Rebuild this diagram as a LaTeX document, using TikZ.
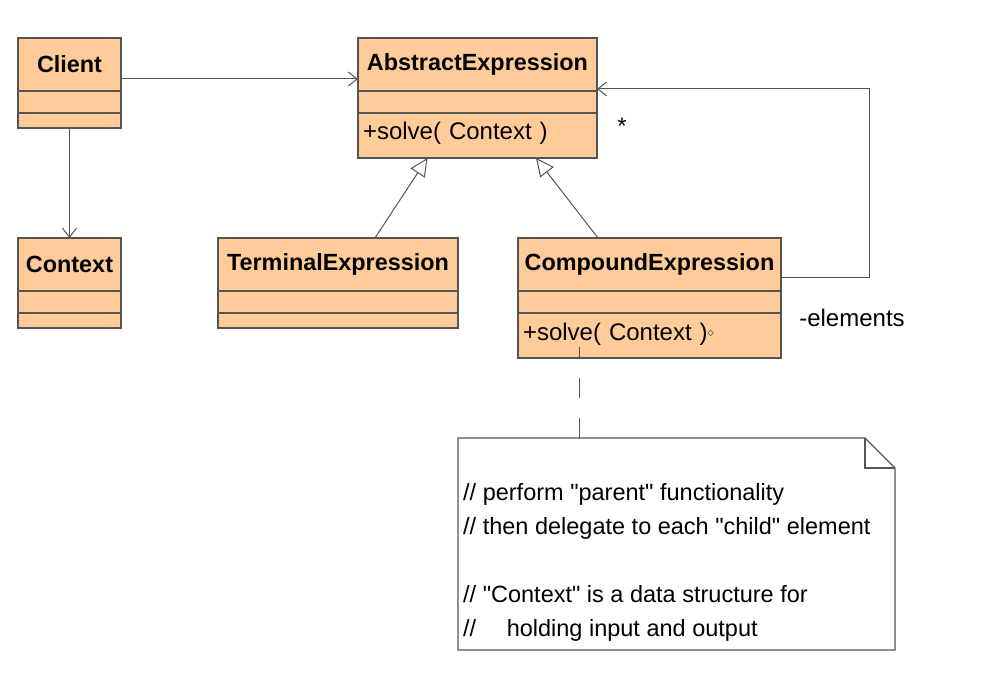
\documentclass[tikz,border=0pt]{standalone}
\usepackage{fontspec}
\setmainfont{Liberation Sans}[Ligatures=TeXOff]
\newfontfamily\symb{DejaVu Sans}
\usetikzlibrary{positioning,calc,arrows.meta}
\definecolor{peach}{RGB}{255,204,153}
\definecolor{edge}{RGB}{85,85,85}
\tikzset{
  namebox/.style={draw=edge, line width=1.2pt, fill=peach, minimum height=53pt, inner sep=0pt, outer sep=0pt, font=\fontsize{23.4}{28}\selectfont\bfseries},
  part/.style={draw=edge, line width=1.2pt, fill=peach, minimum height=22pt, inner sep=0pt, outer sep=0pt, font=\fontsize{24}{28}\selectfont},
  assoc/.style={draw=edge, line width=1pt, -{Straight Barb[length=9pt,width=14pt]}},
  inherit/.style={draw=edge, line width=1pt, -{Triangle[open, length=18pt, width=17pt]}},
}
\begin{document}
\begin{tikzpicture}[x=1pt,y=1pt]
    \useasboundingbox (0,0) rectangle (994,700);
    % classes
    \node[namebox, minimum width=103pt] (client) at (69.5,635.5) {Client};
    \node[part, minimum width=103pt, below=0pt of client] (client-a) {};
    \node[part, minimum width=103pt, minimum height=15pt, below=0pt of client-a] (client-m) {};

    \node[namebox, minimum width=103pt] (context) at (69.5,435.5) {Context};
    \node[part, minimum width=103pt, below=0pt of context] (context-a) {};
    \node[part, minimum width=103pt, minimum height=15pt, below=0pt of context-a] (context-m) {};

    \node[namebox, minimum width=239pt] (abs) at (477.5,635.5) {AbstractExpression};
    \node[part, minimum width=239pt, below=0pt of abs] (abs-a) {};
    \node[part, minimum width=239pt, minimum height=45pt, text width=229pt, align=left, inner xsep=5pt, inner ysep=4pt, text depth=10pt, below=0pt of abs-a] (abs-m) {+solve( Context )};

    \node[namebox, minimum width=240pt] (term) at (338,435.5) {TerminalExpression};
    \node[part, minimum width=240pt, below=0pt of term] (term-a) {};
    \node[part, minimum width=240pt, minimum height=15pt, below=0pt of term-a] (term-m) {};

    \node[namebox, minimum width=263pt] (comp) at (649.5,435.5) {CompoundExpression};
    \node[part, minimum width=263pt, below=0pt of comp] (comp-a) {};
    \node[part, minimum width=263pt, minimum height=45pt, text width=253pt, align=left, inner xsep=5pt, inner ysep=4pt, text depth=8pt, below=0pt of comp-a] (comp-m) {+solve( Context )\raisebox{5pt}{\symb\fontsize{8}{8}\selectfont ◇}};

    % note
    \node[minimum width=437pt, minimum height=212pt, inner sep=0pt, outer sep=0pt] (note) at (676.5,156) {};
    \draw[edge, line width=1.2pt, fill=white] (note.north west) -- ($(note.north east)+(-30,0)$) -- ($(note.north east)+(0,-30)$) -- (note.south east) -- (note.south west) -- cycle;
    \draw[edge, line width=1.2pt] ($(note.north east)+(-30,0)$) -- ++(0,-30) -- ++(30,0);
    \node[anchor=north west, inner sep=0pt, align=left, font=\fontsize{23.5}{34}\selectfont] (notetext) at (463,217) {// perform "parent" functionality\\// then delegate to each "child" element\\[34pt]// "Context" is a data structure for\\//\hspace{24pt} holding input and output};

    % connectors
    \draw[assoc] (client.east |- 0,621) -- (abs.west |- 0,621);
    \draw[assoc] (client-m.south) -- (context.north);
    \draw[inherit] ($(term.north)+(37,0)$) -- ($(abs-m.south)+(-50,0)$);
    \draw[inherit] ($(comp.north)+(-51.5,0)$) -- ($(abs-m.south)+(58.5,0)$);
    \draw[assoc] (comp.east |- 0,422) -| (869,611) -- (abs.east |- 0,611);
    \node[font=\fontsize{24}{28}\selectfont] (mult) at (622,574) {*};
    \node[font=\fontsize{24}{28}\selectfont] (role) at (852,382) {-elements};
    \draw[edge, line width=1pt, dash pattern=on 20pt off 20pt] (note.north -| 579,0) -- ($(comp-m.south)+(-70.5,11)$);
\end{tikzpicture}
\end{document}
